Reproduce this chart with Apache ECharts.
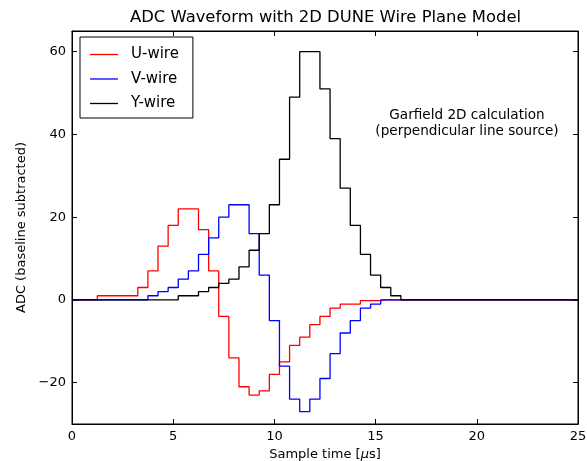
<!DOCTYPE html>
<html><head><meta charset="utf-8">
<script src="https://cdn.jsdelivr.net/npm/echarts@6/dist/echarts.min.js"></script>
<style>html,body{margin:0;padding:0;background:#fff}#c{width:587px;height:461px}</style>
</head><body><div id="c"></div>
<script>
// sample times (bin centres, µs)
var times = [0,0.5,1,1.5,2,2.5,3,3.5,4,4.5,5,5.5,6,6.5,7,7.5,8,8.5,9,9.5,10,10.5,11,11.5,12,12.5,13,13.5,14,14.5,15,15.5,16,16.5,17,17.5,18,18.5,19,19.5,20,20.5,21,21.5,22,22.5,23,23.5,24,24.5,25];
var uWire = [0,0,0,1,1,1,1,3,7,13,18,22,22,17,7,-4,-14,-21,-23,-22,-18,-15,-11,-9,-6,-4,-2,-1,-1,-0.2,-0.2,0,0,0,0,0,0,0,0,0,0,0,0,0,0,0,0,0,0,0,0];
var vWire = [0,0,0,0,0,0,0,0,1,2,3,5,7,11,15,20,23,23,16,6,-5,-16,-24,-27,-24,-19,-13,-8,-5,-2,-1,0,0,0,0,0,0,0,0,0,0,0,0,0,0,0,0,0,0,0,0];
var yWire = [0,0,0,0,0,0,0,0,0,0,0,1,1,2,3,4,5,8,12,16,23,34,49,60,60,51,39,27,18,11,6,3,1,0,0,0,0,0,0,0,0,0,0,0,0,0,0,0,0,0,0];
var seriesNames = ['U-wire','V-wire','Y-wire'];
var xTicks = [0,5,10,15,20,25];
var yTicks = [-20,0,20,40,60];

function pairs(vals){ return times.map(function(t,i){ return [t, vals[i]]; }); }
var FONT = 'DejaVu Sans';
var chart = echarts.init(document.getElementById('c'), null, {renderer:'canvas'});
function mkSeries(name, vals, color){
  return {name:name, type:'line', step:'middle', data:pairs(vals), showSymbol:false, symbol:'none',
    lineStyle:{color:color, width:1.3}, itemStyle:{color:color}, animation:false, xAxisIndex:0, yAxisIndex:0};
}
var minusFmt = function(v){ return String(v).replace('-', '\u2212'); };
chart.setOption({
  animation:false,
  grid:{left:72, right:9, top:31, bottom:37, outerBoundsMode:'none', containLabel:false, show:true, borderColor:'#000', borderWidth:1, backgroundColor:'transparent'},
  legend:{data:seriesNames, orient:'vertical', left:80, top:37, padding:[10,14,7,10], itemGap:9.5,
    borderColor:'#000', borderWidth:1, itemWidth:28, itemHeight:1.3, icon:'rect',
    textStyle:{fontFamily:FONT, fontSize:15, color:'#000', padding:[0,0,0,8]}},
  xAxis:[{type:'value', min:0, max:25, interval:5, position:'bottom',
      name:'Sample time [{i|\u03bc}s]', nameLocation:'middle', nameGap:24,
      nameTextStyle:{fontFamily:FONT, fontSize:13, color:'#000', rich:{i:{fontFamily:FONT, fontSize:13, fontStyle:'italic', color:'#000'}}},
      axisLine:{show:true, onZero:false, lineStyle:{color:'#000'}}, axisTick:{inside:true, length:5, lineStyle:{color:'#000'}},
      axisLabel:{fontFamily:FONT, fontSize:13, color:'#000', margin:6, customValues:xTicks}, splitLine:{show:false}},
    {type:'value', min:0, max:25, interval:5, position:'top',
      axisLine:{show:true, onZero:false, lineStyle:{color:'#000'}}, axisTick:{inside:true, length:5, lineStyle:{color:'#000'}},
      axisLabel:{show:false}, splitLine:{show:false}}],
  yAxis:[{type:'value', min:-30, max:65, position:'left',
      name:'ADC (baseline subtracted)', nameLocation:'middle', nameGap:36,
      nameTextStyle:{fontFamily:FONT, fontSize:13, color:'#000'},
      axisLine:{show:true, onZero:false, lineStyle:{color:'#000'}},
      axisTick:{inside:true, length:5, lineStyle:{color:'#000'}, customValues:yTicks},
      axisLabel:{fontFamily:FONT, fontSize:13, color:'#000', margin:6, customValues:yTicks, formatter:minusFmt}, splitLine:{show:false}},
    {type:'value', min:-30, max:65, position:'right',
      axisLine:{show:true, onZero:false, lineStyle:{color:'#000'}},
      axisTick:{inside:true, length:5, lineStyle:{color:'#000'}, customValues:yTicks},
      axisLabel:{show:false, customValues:yTicks}, splitLine:{show:false}}],
  graphic:[
    {type:'text', x:325.5, y:10, style:{text:'ADC Waveform with 2D DUNE Wire Plane Model',
      fontFamily:FONT, fontSize:16.4, fill:'#000', align:'center'}},
    {type:'text', x:467, y:107, style:{text:'Garfield 2D calculation\n(perpendicular line source)',
      fontFamily:FONT, fontSize:13.6, fill:'#000', align:'center', lineHeight:16}}],
  series:[mkSeries(seriesNames[0], uWire, '#ff0000'), mkSeries(seriesNames[1], vWire, '#0000ff'), mkSeries(seriesNames[2], yWire, '#000000')]
});
</script></body></html>
